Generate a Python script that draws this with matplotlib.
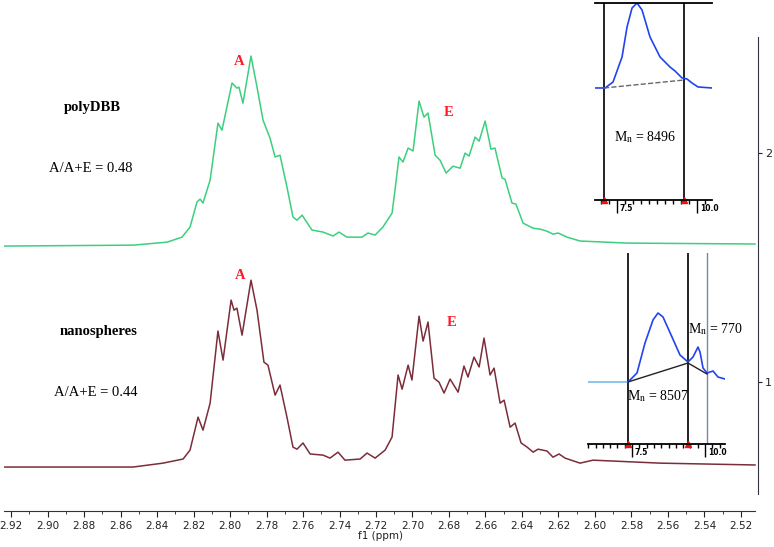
import numpy as np
import matplotlib.pyplot as plt
from matplotlib.ticker import MultipleLocator, FormatStrFormatter

plt.rcParams['mathtext.fontset'] = 'stix'

# 1H NMR traces, shift (ppm) and intensity (offset units of the right axis)
poly_ppm = [2.9238, 2.8531, 2.8345, 2.8263, 2.8219, 2.8181, 2.8164, 2.8148, 2.8109,
            2.8066, 2.8044, 2.7989, 2.7962, 2.7951, 2.7929, 2.7885, 2.7852, 2.7819,
            2.7781, 2.7753, 2.7726, 2.7688, 2.7655, 2.7633, 2.7605, 2.7551, 2.7490,
            2.7435, 2.7403, 2.7359, 2.7277, 2.7244, 2.7205, 2.7162, 2.7112, 2.7096,
            2.7074, 2.7052, 2.7024, 2.6997, 2.6964, 2.6937, 2.6915, 2.6876, 2.6849,
            2.6816, 2.6778, 2.6739, 2.6712, 2.6690, 2.6657, 2.6635, 2.6602, 2.6570,
            2.6548, 2.6509, 2.6493, 2.6455, 2.6433, 2.6394, 2.6339, 2.6301, 2.6263,
            2.6230, 2.6202, 2.6153, 2.6082, 2.5824, 2.5123]
poly_int = [1.594, 1.598, 1.611, 1.633, 1.677, 1.786, 1.799, 1.782, 1.882,
            2.131, 2.100, 2.306, 2.284, 2.288, 2.218, 2.424, 2.288, 2.144,
            2.066, 1.983, 1.991, 1.852, 1.721, 1.707, 1.729, 1.664, 1.655,
            1.638, 1.655, 1.633, 1.633, 1.651, 1.642, 1.677, 1.738, 1.838,
            1.983, 1.961, 2.022, 2.009, 2.227, 2.157, 2.175, 1.991, 1.969,
            1.913, 1.943, 1.934, 2.000, 1.987, 2.070, 2.052, 2.140, 2.017,
            2.022, 1.891, 1.886, 1.782, 1.777, 1.694, 1.672, 1.668, 1.659,
            1.646, 1.651, 1.633, 1.616, 1.607, 1.603]

nano_ppm = [2.9238, 2.8531, 2.8367, 2.8257, 2.8219, 2.8175, 2.8148, 2.8109, 2.8066,
            2.8038, 2.7994, 2.7978, 2.7962, 2.7934, 2.7885, 2.7852, 2.7814, 2.7792,
            2.7753, 2.7726, 2.7688, 2.7655, 2.7633, 2.7600, 2.7561, 2.7490, 2.7452,
            2.7408, 2.7370, 2.7287, 2.7249, 2.7205, 2.7150, 2.7112, 2.7079, 2.7057,
            2.7024, 2.7003, 2.6964, 2.6942, 2.6915, 2.6882, 2.6855, 2.6827, 2.6794,
            2.6750, 2.6718, 2.6696, 2.6663, 2.6635, 2.6608, 2.6575, 2.6553, 2.6520,
            2.6498, 2.6465, 2.6438, 2.6405, 2.6372, 2.6339, 2.6312, 2.6263, 2.6230,
            2.6197, 2.6164, 2.6082, 2.6011, 2.5643, 2.5123]
nano_int = [0.629, 0.629, 0.646, 0.664, 0.703, 0.847, 0.790, 0.908, 1.223,
            1.096, 1.358, 1.314, 1.323, 1.205, 1.445, 1.314, 1.087, 1.074,
            0.943, 0.987, 0.847, 0.716, 0.707, 0.734, 0.686, 0.681, 0.668,
            0.694, 0.659, 0.664, 0.690, 0.668, 0.703, 0.760, 1.031, 0.969,
            1.074, 1.009, 1.288, 1.179, 1.262, 1.017, 1.000, 0.952, 1.013,
            0.956, 1.070, 1.022, 1.109, 1.066, 1.192, 1.031, 1.061, 0.908,
            0.921, 0.803, 0.821, 0.734, 0.716, 0.694, 0.707, 0.699, 0.672,
            0.686, 0.668, 0.646, 0.659, 0.646, 0.638]

# GPC insets: elution volume and normalised detector signal
gpc1_vol = [6.81, 7.125, 7.375, 7.656, 7.8125, 7.969, 8.125, 8.281, 8.531, 8.844,
            9.156, 9.3125, 9.531, 9.6875, 9.844, 10.031, 10.469]
gpc1_sig = [0, 0, 0.071, 0.365, 0.718, 0.941, 1.0, 0.918, 0.600, 0.365,
            0.247, 0.200, 0.118, 0.106, 0.059, 0.012, 0]
gpc1_cut = [7.094, 9.594]
gpc1_base = [0, 0.094]

gpc2_lead_vol = [5.993, 7.363]
gpc2_lead_sig = [0, 0]
gpc2_vol = [7.363, 7.671, 7.945, 8.219, 8.390, 8.562, 8.870, 9.144, 9.418, 9.589,
            9.760, 9.829, 9.932, 10.068, 10.274, 10.445, 10.685]
gpc2_sig = [0, 0.130, 0.565, 0.899, 1.0, 0.942, 0.652, 0.391, 0.290, 0.362,
            0.507, 0.435, 0.203, 0.130, 0.159, 0.072, 0.043]
gpc2_cut = [7.363, 9.418, 10.068]
gpc2_base = [0, 0.275, 0.116]

W, H = 774, 547
fig = plt.figure(figsize=(W / 100, H / 100), dpi=100)
ax = fig.add_axes([4 / W, 36 / H, 754 / W, 474 / H])

ax.plot(poly_ppm, poly_int, color='#3ccf7e', lw=1.1)
ax.plot(nano_ppm, nano_int, color='#7b2d3a', lw=1.1)

ax.set_xlim(2.92384, 2.51068)
ax.set_ylim(0.437, 2.507)
for s in ['top', 'left']:
    ax.spines[s].set_visible(False)
ax.spines['bottom'].set_bounds(2.9238, 2.5123)
ax.spines['right'].set_bounds(0.511, 2.507)
ax.spines['bottom'].set_color('#333333')
ax.spines['right'].set_color('#333344')
ax.xaxis.set_major_locator(MultipleLocator(0.02))
ax.xaxis.set_minor_locator(MultipleLocator(0.01))
ax.xaxis.set_major_formatter(FormatStrFormatter('%.2f'))
ax.tick_params(axis='x', which='major', length=4, pad=3, labelsize=7.5, colors='#222222')
ax.tick_params(axis='x', which='minor', length=2, colors='#222222')
ax.yaxis.tick_right()
ax.set_yticks([1, 2])
ax.tick_params(axis='y', length=3, pad=2, labelsize=8, colors='#222222')
ax.set_xlabel('f1 (ppm)', fontsize=7.5, labelpad=0, color='#222222')

serif = 'Liberation Serif'
ax.text(2.8756, 2.197, 'polyDBB', family=serif, weight='bold', fontsize=10.5,
        ha='center', va='center')
ax.text(2.8762, 1.934, 'A/A+E = 0.48', family=serif, fontsize=10.5,
        ha='center', va='center')
ax.text(2.8718, 1.223, 'nanospheres', family=serif, weight='bold', fontsize=10.5,
        ha='center', va='center')
ax.text(2.8734, 0.956, 'A/A+E = 0.44', family=serif, fontsize=10.5,
        ha='center', va='center')
for x, y, t in [(2.7951, 2.402, 'A'), (2.6800, 2.179, 'E'),
                (2.7946, 1.467, 'A'), (2.6783, 1.262, 'E')]:
    ax.text(x, y, t, family=serif, weight='bold', fontsize=10.5, color='#ff1a2a',
            ha='center', va='center')


def gpc_inset(box, xlim, ylim, top_line):
    x0, y0, x1, y1 = box
    ia = fig.add_axes([x0 / W, (H - y1) / H, (x1 - x0) / W, (y1 - y0) / H])
    ia.patch.set_alpha(0)
    ia.set_xlim(*xlim)
    ia.set_ylim(*ylim)
    for s in ['left', 'right']:
        ia.spines[s].set_visible(False)
    ia.spines['top'].set_visible(top_line)
    ia.spines['top'].set_linewidth(1.3)
    ia.spines['bottom'].set_linewidth(1.3)
    ia.set_yticks([])
    ia.xaxis.set_major_locator(MultipleLocator(2.5))
    ia.xaxis.set_minor_locator(MultipleLocator(0.25))
    ia.tick_params(axis='x', which='major', length=9, width=1, labelbottom=False)
    ia.tick_params(axis='x', which='minor', length=3, width=1)
    for v, t in [(7.5, '7.5'), (10.0, '10.0')]:
        ia.annotate(t, (v, ylim[0]), xytext=(2, -3), textcoords='offset points',
                    fontsize=5.5, weight='bold', ha='left', va='top',
                    annotation_clip=False)
    return ia


ins1 = gpc_inset((595, 3, 712, 200), (6.81, 10.47), (-1.318, 1.0), True)
for c in gpc1_cut:
    ins1.axvline(c, color='#111111', lw=1.3)
ins1.plot(gpc1_vol, gpc1_sig, color='#2244ee', lw=1.2)
ins1.plot(gpc1_cut, gpc1_base, color='#666666', lw=1.0, ls='--')
ins1.plot(gpc1_cut, [-1.318] * 2, ls='none', marker='^', ms=5, color='#ee1111',
          clip_on=False)
ins1.text(8.375, -0.576, r'M$_{\rm n}$ = 8496', family=serif, fontsize=10,
          ha='center', va='center')

ins2 = gpc_inset((588, 253, 725, 444), (5.993, 10.685), (-0.899, 1.870), False)
ins2.axvline(gpc2_cut[0], color='#111111', lw=1.3)
ins2.axvline(gpc2_cut[1], color='#111111', lw=1.3)
ins2.axvline(gpc2_cut[2], color='#7788aa', lw=1.0)
ins2.plot(gpc2_lead_vol, gpc2_lead_sig, color='#77bbee', lw=1.2)
ins2.plot(gpc2_vol, gpc2_sig, color='#2244ee', lw=1.2)
ins2.plot(gpc2_cut, gpc2_base, color='#222222', lw=1.0)
ins2.plot(gpc2_cut[:2], [-0.899] * 2, ls='none', marker='^', ms=5, color='#ee1111',
          clip_on=False)
ins2.text(10.377, 0.768, r'M$_{\rm n}$ = 770', family=serif, fontsize=10,
          ha='center', va='center')
ins2.text(8.390, -0.203, r'M$_{\rm n}$ = 8507', family=serif, fontsize=10,
          ha='center', va='center')

fig.savefig('out.png', dpi=100)
